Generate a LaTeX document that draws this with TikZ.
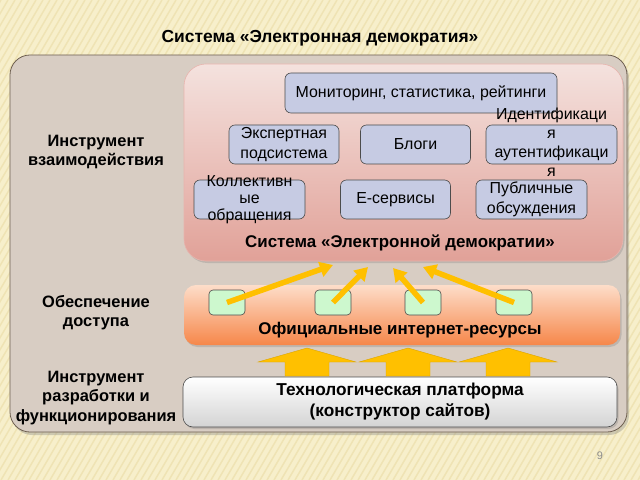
\documentclass[tikz,border=0pt]{standalone}
\usepackage{fontspec}
\setmainfont{Liberation Sans}
\usetikzlibrary{arrows.meta,shadows}

\definecolor{paper}{HTML}{F7EFCB}
\definecolor{stripe}{HTML}{EFE3B4}
\definecolor{panel}{HTML}{D8CDC3}
\definecolor{panelline}{HTML}{6E5F50}
\definecolor{pinktop}{HTML}{F4E2DE}
\definecolor{pinkbot}{HTML}{E1A198}
\definecolor{orangetop}{HTML}{FDDDC9}
\definecolor{orangebot}{HTML}{F6874A}
\definecolor{servfill}{HTML}{C6CBE3}
\definecolor{sitefill}{HTML}{CDF8CE}
\definecolor{amber}{HTML}{FFC000}
\definecolor{amberline}{HTML}{DCA400}

\begin{document}
\begin{tikzpicture}
            [x=1bp, y=-1bp, semithick,
             service/.style={shape=rectangle, rounded corners=6bp, draw=black!70, fill=servfill,
                             minimum width=110bp, minimum height=39bp, inner sep=1bp, align=center,
                             font=\fontsize{16}{20}\selectfont},
             site/.style={shape=rectangle, rounded corners=4bp, draw=black!70, fill=sitefill,
                          minimum width=36bp, minimum height=25bp},
             level/.style={align=center, font=\fontsize{16.5}{19.5}\selectfont\bfseries},
             feed/.style={-{Triangle[length=13bp,width=15bp]}, line width=5.5bp, draw=amber},
             lift/.style={fill=amber, draw=amberline, thin}]
            \useasboundingbox (0,0) rectangle (640,480);
            \fill[paper] (0,0) rectangle (640,480);
            \begin{scope}
                \clip (0,0) rectangle (640,480);
                \foreach \s in {-300,-293,...,640}
                    \draw[stripe, line width=1.5bp] (\s,480) -- ++(280,-480);
            \end{scope}

            \node[font=\fontsize{17.5}{20}\selectfont\bfseries] (title) at (320,38) {Система «Электронная демократия»};

            % panels
            \node[shape=rectangle, rounded corners=20bp, draw=panelline, thick, fill=panel,
                  minimum width=617bp, minimum height=377bp,
                  drop shadow={shadow xshift=2bp, shadow yshift=-3bp, opacity=.35}] (frame) at (318.5,243.5) {};
            \node[shape=rectangle, rounded corners=22bp, top color=pinktop, bottom color=pinkbot,
                  draw=pinkbot!80!white, minimum width=439bp, minimum height=197bp,
                  drop shadow={shadow xshift=1.5bp, shadow yshift=-2bp, opacity=.3}] (edem) at (403.5,162.5) {};
            \node[shape=rectangle, rounded corners=12bp, top color=orangetop, bottom color=orangebot,
                  minimum width=436bp, minimum height=60bp,
                  drop shadow={shadow xshift=1.5bp, shadow yshift=-2bp, opacity=.3}] (sites) at (402,315) {};
            \node[shape=rectangle, rounded corners=10bp, top color=white, bottom color=black!17,
                  draw=black!70, minimum width=434bp, minimum height=50bp, align=center,
                  font=\fontsize{17.3}{21}\selectfont\bfseries,
                  drop shadow={shadow xshift=1.5bp, shadow yshift=-2bp, opacity=.3}] (platform) at (400,402)
                  {Технологическая платформа\\(конструктор сайтов)};

            % left column
            \node[level] (interact) at (96,152) {Инструмент\\взаимодействия};
            \node[level] (access) at (96,312.5) {Обеспечение\\доступа};
            \node[level] (develop) at (96,398) {Инструмент\\разработки и\\функционирования};

            % services
            \node[service, minimum width=272bp, minimum height=40bp] (monitor) at (421,93) {Мониторинг, статистика, рейтинги};
            \node[service] (expert) at (284,144.5) {Экспертная\\подсистема};
            \node[service] (blogs) at (415.5,144.5) {Блоги};
            \node[service, minimum width=131bp] (ident) at (551.5,144.5) {};
            \node[align=center, inner sep=0pt, font=\fontsize{16}{19}\selectfont] (identtext) at (551.5,142.5)
                  {Идентификаци\\я\\аутентификаци\\я};
            \node[service, minimum width=111bp] (appeal) at (249.5,199.5) {};
            \node[align=center, inner sep=0pt, font=\fontsize{16}{17}\selectfont] (appealtext) at (appeal.center)
                  {Коллективн\\ые\\обращения};
            \node[service] (eserv) at (395.5,199.5) {Е-сервисы};
            \node[service, minimum width=111bp] (public) at (531.5,199.5) {Публичные\\обсуждения};
            \node[font=\fontsize{17}{20}\selectfont\bfseries] (edemtext) at (400,243) {Система «Электронной демократии»};

            % official sites
            \node[site] (s1) at (227,302.5) {};
            \node[site] (s2) at (333,302.5) {};
            \node[site] (s3) at (423,302.5) {};
            \node[site] (s4) at (514,302.5) {};
            \node[font=\fontsize{17}{20}\selectfont\bfseries] (sitestext) at (400,330) {Официальные интернет-ресурсы};

            \coordinate (t1) at (333,265);
            \coordinate (t2) at (368,267);
            \coordinate (t3) at (393,268);
            \coordinate (t4) at (423,267);
            \draw[feed] (s1.center) -- (t1);
            \draw[feed] (s2.center) -- (t2);
            \draw[feed] (s3.center) -- (t3);
            \draw[feed] (s4.center) -- (t4);

            % platform lifts
            \draw[lift] (307,376) -- ++(-22,0) -- ++(0,-14) -- ++(-27,0) -- ++(49,-14) -- ++(49,14) -- ++(-27,0) -- ++(0,14) -- cycle;
            \draw[lift] (408,376) -- ++(-22,0) -- ++(0,-14) -- ++(-27,0) -- ++(49,-14) -- ++(49,14) -- ++(-27,0) -- ++(0,14) -- cycle;
            \draw[lift] (508,376) -- ++(-22,0) -- ++(0,-14) -- ++(-27,0) -- ++(49,-14) -- ++(49,14) -- ++(-27,0) -- ++(0,14) -- cycle;

            \node[text=black!45, font=\fontsize{11}{12}\selectfont] (page) at (600,456) {9};
        \end{tikzpicture}
\end{document}
